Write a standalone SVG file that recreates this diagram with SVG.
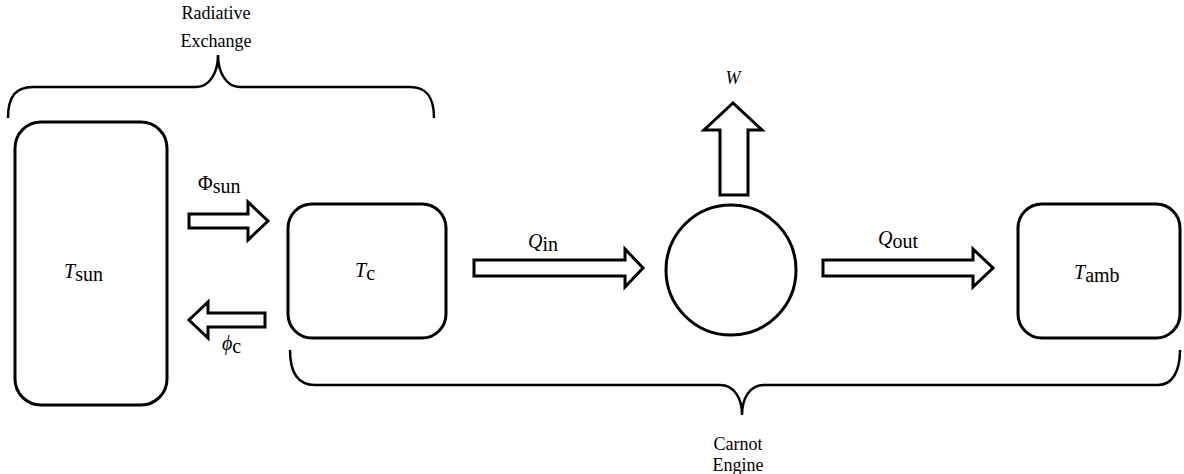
<svg xmlns="http://www.w3.org/2000/svg" width="1184" height="474" viewBox="0 0 1184 474">
<style>
.box{fill:#fff;stroke:#000;stroke-width:3}
.arr{fill:#fff;stroke:#000;stroke-width:3;stroke-linejoin:miter}
.brace{fill:none;stroke:#000;stroke-width:2.5}
.t{font-family:"Liberation Serif","Times New Roman",serif;font-size:20px;fill:#000}
.it{font-style:italic}
.c{text-anchor:middle}
.sm{font-size:18px}
</style>
<rect width="1184" height="474" fill="#fff"/>
<g id="braces">
<path class="brace" d="M8,118 C8,96 16,87 33,87 L196,87 C210,87 218,72 218,55 C218,72 226,87 240,87 L410,87 C426,87 434,96 434,118"/>
<path class="brace" d="M290,350 C290,372 298,385 315,385 L720,385 C734,385 742,398 742,415 C742,398 750,385 764,385 L1158,385 C1172,385 1180,372 1180,350"/>
<text class="t c sm" x="216" y="19">Radiative</text>
<text class="t c sm" x="216" y="47">Exchange</text>
<text class="t c sm" x="738" y="450">Carnot</text>
<text class="t c sm" x="738" y="471">Engine</text>
</g>
<g id="sun">
<rect class="box" x="15" y="122" width="152" height="283" rx="26"/>
<text class="t" x="64" y="278"><tspan class="it">T</tspan><tspan dy="3">sun</tspan></text>
</g>
<g id="tc">
<rect class="box" x="288" y="204" width="158" height="134" rx="24"/>
<text class="t" x="355" y="277"><tspan class="it">T</tspan><tspan dy="3">c</tspan></text>
</g>
<g id="engine">
<circle class="box" cx="731" cy="270" r="65"/>
</g>
<g id="tamb">
<rect class="box" x="1018" y="204" width="162" height="134" rx="24"/>
<text class="t" x="1074" y="279"><tspan class="it">T</tspan><tspan dy="3">amb</tspan></text>
</g>
<g id="connectors">
<polygon class="arr" points="189,214 248,214 248,202 268,221 248,240 248,228 189,228"/>
<text class="t" x="198" y="190">Φ<tspan dy="3">sun</tspan></text>
<polygon class="arr" points="265,313 208,313 208,302 189,320 208,338 208,327 265,327"/>
<text class="t it" x="222" y="350">ϕ<tspan dy="3" font-style="normal">c</tspan></text>
<polygon class="arr" points="474,260 625,260 625,249 643,268 625,287 625,276 474,276"/>
<text class="t" x="528" y="248"><tspan class="it">Q</tspan><tspan dy="3">in</tspan></text>
<polygon class="arr" points="823,260 973,260 973,249 993,268 973,287 973,276 823,276"/>
<text class="t" x="878" y="245"><tspan class="it">Q</tspan><tspan dy="3">out</tspan></text>
<polygon class="arr" points="720,195 720,130 704,130 733,103 762,130 748,130 748,195"/>
<text class="t it c sm" x="733" y="84">W</text>
</g>
</svg>
